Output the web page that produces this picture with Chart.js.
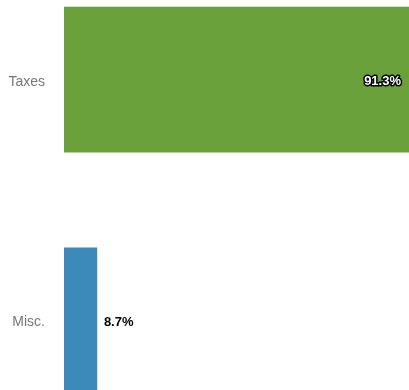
<!DOCTYPE html>
<html>
<head>
<meta charset="utf-8">
<script src="https://cdn.jsdelivr.net/npm/chart.js@4"></script>
<style>
  html, body { margin: 0; padding: 0; overflow: hidden; background: #fff; }
  #wrap { position: absolute; left: 0; top: -68px; width: 409px; height: 536px; }
</style>
</head>
<body>
<div id="wrap"><canvas id="barChart"></canvas></div>
<script>
var categories = ['Taxes', 'Misc.'];
var shares = [91.3, 8.7];
var barColors = ['#6aa03a', '#3b8aba'];

// draws the % labels at the end of each bar (no datalabels plugin available)
var valueLabels = {
    id: 'valueLabels',
    afterDatasetsDraw: function(chart) {
        var ctx = chart.ctx;
        var meta = chart.getDatasetMeta(0);
        ctx.save();
        ctx.font = 'bold 13px "Liberation Sans", Arial, sans-serif';
        ctx.textBaseline = 'middle';
        meta.data.forEach(function(bar, i) {
            var text = shares[i].toFixed(1) + '%';
            var w = ctx.measureText(text).width;
            var y = bar.y + 2;
            if (bar.x - bar.base > w + 20) {
                ctx.textAlign = 'right';
                ctx.lineJoin = 'round';
                ctx.lineWidth = 3;
                ctx.strokeStyle = '#000';
                ctx.strokeText(text, bar.x - 8, y);
                ctx.fillStyle = '#fff';
                ctx.fillText(text, bar.x - 8, y);
            } else {
                ctx.textAlign = 'left';
                ctx.fillStyle = '#000';
                ctx.fillText(text, bar.x + 7, y);
            }
        });
        ctx.restore();
    }
};

window.onload = function() {
    var ctx = document.getElementById('barChart').getContext('2d');
    new Chart(ctx, {
        type: 'bar',
        data: {
            labels: categories,
            datasets: [{
                data: shares,
                backgroundColor: barColors,
                hoverBackgroundColor: barColors,
                barThickness: 145
            }]
        },
        options: {
            indexAxis: 'y',
            responsive: true,
            maintainAspectRatio: false,
            animation: false,
            layout: { padding: 0 },
            scales: {
                x: {
                    display: false,
                    min: 0,
                    max: 91.3
                },
                y: {
                    grid: { display: false, drawTicks: false },
                    border: { display: false },
                    ticks: {
                        padding: 19,
                        labelOffset: 2,
                        color: '#777',
                        font: { family: '"Liberation Sans", Arial, sans-serif', size: 14 }
                    },
                    afterFit: function(scale) {
                        scale.width = 64;
                    }
                }
            },
            plugins: {
                legend: { display: false },
                tooltip: { enabled: false }
            }
        },
        plugins: [valueLabels]
    });
};
</script>
</body>
</html>
